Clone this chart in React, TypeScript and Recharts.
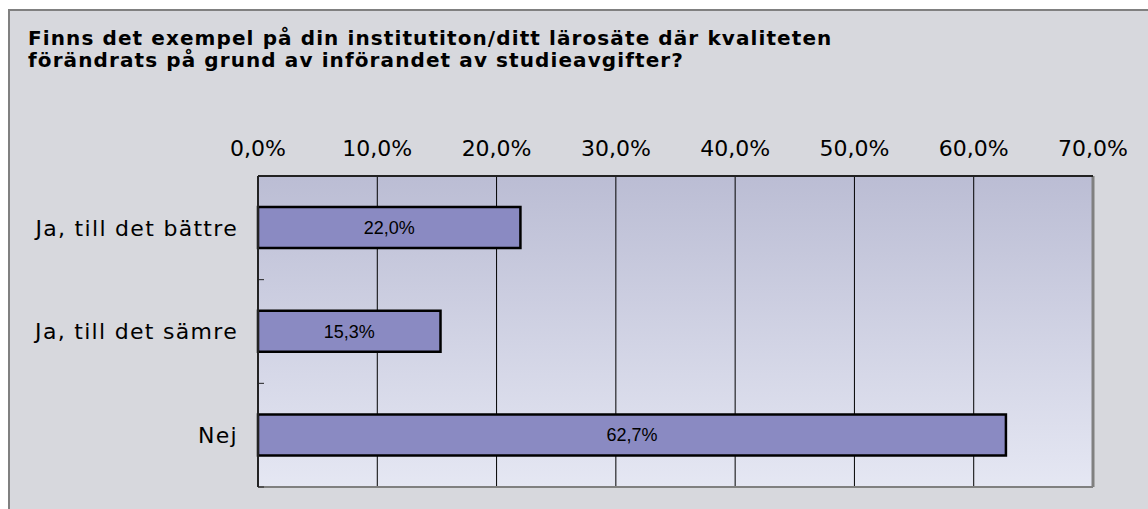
import React from 'react';
import { BarChart, Bar, XAxis, YAxis, CartesianGrid, LabelList, ReferenceLine } from 'recharts';

const categories = ['Ja, till det bättre', 'Ja, till det sämre', 'Nej'];
const shares = [22.0, 15.3, 62.7];
const xTicks = [0, 10, 20, 30, 40, 50, 60, 70];

const titleLines = [
  'Finns det exempel på din institutiton/ditt lärosäte där kvaliteten',
  'förändrats på grund av införandet av studieavgifter?',
];

const pct = (v: number) => `${v.toFixed(1).replace('.', ',')}%`;

const font = '"DejaVu Sans", Verdana, sans-serif';
const LABEL_GAP = 20;

// category label plus the small inner tick at the lower edge of each band
const CategoryTick = (props: any) => {
  const { x, y, payload } = props;
  const axisX = x + LABEL_GAP;
  const edge = y + (payload.offset || 0);
  return (
    <g>
      <text
        x={x}
        y={y}
        dy="0.36em"
        textAnchor="end"
        fontFamily={font}
        fontSize={22}
        letterSpacing={1.3}
        fill="#000"
      >
        {payload.value}
      </text>
      <line x1={axisX} x2={axisX + 6} y1={edge} y2={edge} stroke="#222" strokeWidth={1} />
    </g>
  );
};

export default function App() {
  const data = categories.map((name, i) => ({ name, value: shares[i] }));

  return (
    <div>
      <div
        style={{
          position: 'fixed',
          left: 8,
          top: 9,
          width: 1200,
          height: 560,
          background: '#d7d8dd',
          borderLeft: '2px solid #808080',
          borderTop: '2px solid #808080',
        }}
      />
      <div
        style={{
          position: 'fixed',
          left: 28,
          top: 27,
          fontFamily: font,
          fontWeight: 'bold',
          fontSize: 20,
          letterSpacing: 1.1,
          lineHeight: '22px',
          color: '#000',
          whiteSpace: 'nowrap',
        }}
      >
        {titleLines.map((t) => (
          <div key={t}>{t}</div>
        ))}
      </div>
      <div style={{ position: 'fixed', left: 0, top: 0 }}>
        <BarChart
          width={1148}
          height={509}
          data={data}
          layout="vertical"
          barCategoryGap="30%"
          margin={{ top: 0, right: 55, bottom: 21, left: 0 }}
        >
          <defs>
            <linearGradient id="plotBg" x1="0" y1="0" x2="0" y2="1">
              <stop offset="0%" stopColor="#bbbdd4" />
              <stop offset="100%" stopColor="#e5e7f3" />
            </linearGradient>
          </defs>
          <CartesianGrid
            horizontal={false}
            stroke="#000"
            strokeWidth={1}
            fill="url(#plotBg)"
            fillOpacity={1}
          />
          <XAxis
            xAxisId={0}
            type="number"
            orientation="top"
            domain={[0, 70]}
            ticks={xTicks}
            tickFormatter={pct}
            height={176}
            tickLine={false}
            tickSize={0}
            tickMargin={20}
            axisLine={{ stroke: '#222', strokeWidth: 2 }}
            tick={{ fontFamily: font, fontSize: 22, fill: '#000' }}
            interval={0}
          />
          <XAxis
            xAxisId="b"
            type="number"
            orientation="bottom"
            domain={[0, 70]}
            height={1}
            tick={false}
            tickLine={false}
            axisLine={{ stroke: '#808080', strokeWidth: 2 }}
          />
          <YAxis
            yAxisId={0}
            type="category"
            dataKey="name"
            width={258}
            tickLine={false}
            tickMargin={LABEL_GAP}
            tickSize={0}
            axisLine={{ stroke: '#222', strokeWidth: 2 }}
            tick={CategoryTick}
            interval={0}
          />
          <ReferenceLine xAxisId={0} yAxisId={0} x={70} stroke="#808080" strokeWidth={3} />
          <Bar
            dataKey="value"
            xAxisId={0}
            yAxisId={0}
            fill="#8a8ac2"
            stroke="#000"
            strokeWidth={2.5}
            isAnimationActive={false}
          >
            <LabelList
              dataKey="value"
              position="center"
              formatter={(v: number) => pct(v)}
              style={{ fontFamily: '"Liberation Sans", Arial, sans-serif', fontSize: 18, fill: '#000' }}
            />
          </Bar>
        </BarChart>
      </div>
    </div>
  );
}
